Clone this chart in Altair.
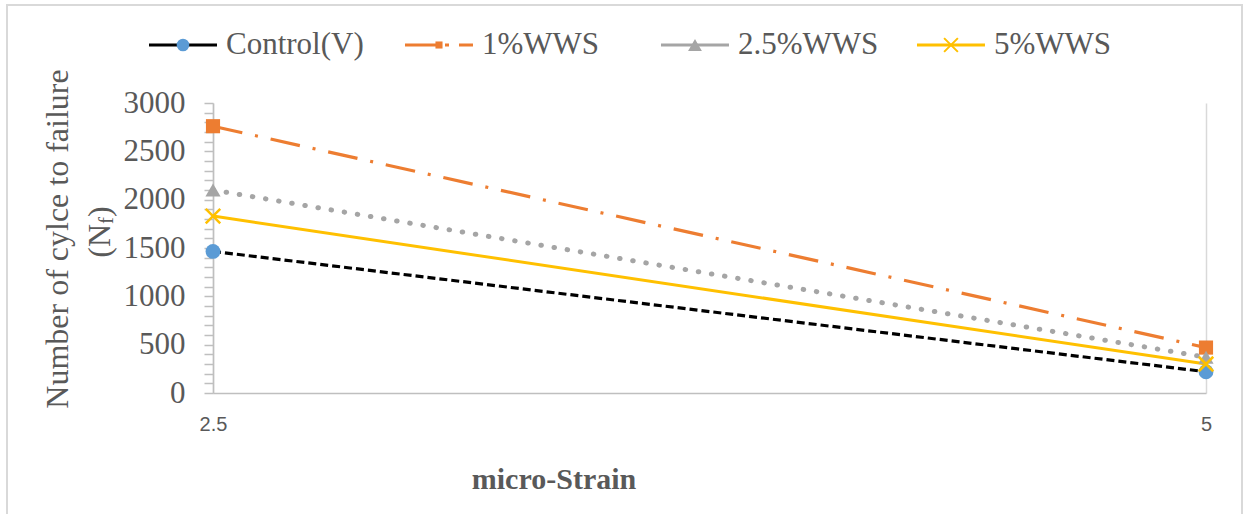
import altair as alt
import pandas as pd

# ---- data ----
strain = [2.5, 5]
series = ["Control(V)", "1%WWS", "2.5%WWS", "5%WWS"]
control = [1465, 220]
wws1 = [2760, 470]
wws25 = [2100, 370]
wws5 = [1830, 300]
y_ticks = list(range(0, 3001, 100))
x_ticks = [2.5, 5]
y_title_1 = "Number of cylce to failure"
y_title_2a = "(N"
y_title_2b = "f"
y_title_2c = ")"
x_title = "micro-Strain"

values = {"Control(V)": control, "1%WWS": wws1, "2.5%WWS": wws25, "5%WWS": wws5}
df = pd.DataFrame(
    [{"strain": s, "nf": v, "series": name} for name in series for s, v in zip(strain, values[name])]
)
legend_df = pd.DataFrame({"series": series, "i": list(range(len(series)))})
one = pd.DataFrame({"k": [0]})

X_PATH = "M-1,-1L1,1M-1,1L1,-1"
GREY_TXT = "#595959"
AX = "#BFBFBF"

styles = {
    "Control(V)": dict(color="#000000", dash=[8, 4], width=3.2, cap="butt",
                       shape="circle", mcolor="#5B9BD5", filled=True, msize=220, lsize=160,
                       ldash=None),
    "1%WWS": dict(color="#ED7D31", dash=[30, 13, 3, 13], width=3.2, cap="butt",
                  shape="square", mcolor="#ED7D31", filled=True, msize=200, lsize=50,
                  ldash=[34, 6, 4, 10]),
    "2.5%WWS": dict(color="#A5A5A5", dash=[0.5, 12.8], width=5, cap="round",
                    shape="triangle-up", mcolor="#A5A5A5", filled=True, msize=230, lsize=190,
                    ldash=None),
    "5%WWS": dict(color="#FFC000", dash=None, width=3, cap="butt",
                  shape=X_PATH, mcolor="#FFC000", filled=False, msize=210, lsize=190,
                  ldash=None),
}

ax_x = alt.Axis(values=x_ticks, labelExpr="'' + datum.value", title=None, ticks=False,
                grid=True, gridColor="#D9D9D9", gridWidth=1.5, domainColor=AX, domainWidth=1.5,
                labelFont="Liberation Sans", labelFontSize=20, labelColor=GREY_TXT,
                labelPadding=21, labelFlush=False, labelOverlap=False)
ax_y = alt.Axis(values=y_ticks, format="d",
                labelExpr="datum.value % 500 === 0 ? datum.label : ''",
                title=None, tickSize=9, tickColor=AX, tickWidth=1.5,
                domainColor=AX, domainWidth=1.5, grid=False,
                labelFont="Liberation Serif", labelFontSize=31, labelColor=GREY_TXT,
                labelPadding=19, labelOverlap=False)

xenc = alt.X("strain:Q", scale=alt.Scale(domain=[2.5, 5], nice=False, zero=False), axis=ax_x)
yenc = alt.Y("nf:Q", scale=alt.Scale(domain=[0, 3000], nice=False), axis=ax_y)

base = alt.Chart(df)
line_layers = []
point_layers = []
for name in series:
    st = styles[name]
    kw = dict(stroke=st["color"], strokeWidth=st["width"], strokeCap=st["cap"])
    if st["dash"]:
        kw["strokeDash"] = st["dash"]
    line_layers.append(
        base.transform_filter(alt.datum.series == name).mark_line(**kw).encode(x=xenc, y=yenc)
    )
    if st["filled"]:
        pkw = dict(shape=st["shape"], filled=True, fill=st["mcolor"], opacity=1,
                   size=st["msize"], strokeWidth=0)
    else:
        pkw = dict(shape=st["shape"], filled=False, stroke=st["mcolor"], opacity=1,
                   size=st["msize"], strokeWidth=2.5)
    point_layers.append(
        base.transform_filter(alt.datum.series == name).mark_point(**pkw).encode(x=xenc, y=yenc)
    )

main = alt.layer(*line_layers, *point_layers)

# ---- legend (drawn with marks, spaced by series index) ----
LY = -58
lscale = alt.Scale(domain=[0.25, 4.129], nice=False, zero=False)
lbase = alt.Chart(legend_df).transform_calculate(
    lx0="datum.i", lx1="datum.i + 0.2656", lxm="datum.i + 0.1328", lt="datum.i + 0.3008"
)
leg_layers = []
for name in series:
    st = styles[name]
    b = lbase.transform_filter(alt.datum.series == name)
    rkw = dict(stroke=st["color"], strokeWidth=3.2)
    if st["ldash"]:
        rkw["strokeDash"] = st["ldash"]
    leg_layers.append(
        b.mark_rule(**rkw).encode(x=alt.X("lx0:Q", scale=lscale, axis=None), x2="lx1:Q",
                                  y=alt.value(LY))
    )
    if st["filled"]:
        pkw = dict(shape=st["shape"], filled=True, fill=st["mcolor"], opacity=1,
                   size=st["lsize"], strokeWidth=0)
    else:
        pkw = dict(shape=st["shape"], filled=False, stroke=st["mcolor"], opacity=1,
                   size=st["lsize"], strokeWidth=2)
    leg_layers.append(
        b.mark_point(**pkw).encode(x=alt.X("lxm:Q", scale=lscale, axis=None), y=alt.value(LY))
    )
leg_layers.append(
    lbase.mark_text(align="left", baseline="middle", font="Liberation Serif", fontSize=31,
                    color=GREY_TXT).encode(x=alt.X("lt:Q", scale=lscale, axis=None),
                                           y=alt.value(LY), text="series:N")
)
legend = alt.layer(*leg_layers)

# ---- titles and frame ----
ob = alt.Chart(one)
tkw = dict(font="Liberation Serif", fontSize=32, color=GREY_TXT, angle=270, baseline="middle")
annot = alt.layer(
    ob.mark_text(align="center", text=y_title_1, **tkw).encode(x=alt.value(-155), y=alt.value(136)),
    ob.mark_text(align="left", dx=-25.7, text=y_title_2a, **tkw).encode(x=alt.value(-113), y=alt.value(129)),
    ob.mark_text(align="left", dx=8.1, dy=7, text=y_title_2b,
                 **{**tkw, "fontSize": 21}).encode(x=alt.value(-113), y=alt.value(129)),
    ob.mark_text(align="left", dx=15.1, text=y_title_2c, **tkw).encode(x=alt.value(-113), y=alt.value(129)),
    ob.mark_text(align="center", baseline="middle", font="Liberation Serif", fontSize=30,
                 fontWeight="bold", color=GREY_TXT, text=x_title).encode(x=alt.value(341), y=alt.value(377)),
    ob.mark_rule(stroke="#D9D9D9", strokeWidth=2).encode(x=alt.value(-206), y=alt.value(-98), y2=alt.value(411)),
    ob.mark_rule(stroke="#D9D9D9", strokeWidth=2).encode(x=alt.value(1029), y=alt.value(-98), y2=alt.value(411)),
    ob.mark_rule(stroke="#D9D9D9", strokeWidth=2).encode(x=alt.value(-207), x2=alt.value(1030), y=alt.value(-98)),
)

chart = alt.layer(main, legend, annot).resolve_scale(x="independent").properties(
    width=993, height=290,
    autosize=alt.AutoSizeParams(type="none"),
    padding={"left": 213, "top": 103, "right": 38, "bottom": 121},
    background="white",
).configure_view(stroke=None)

chart.save("out.html", embed_options={"renderer": "svg", "actions": False})
